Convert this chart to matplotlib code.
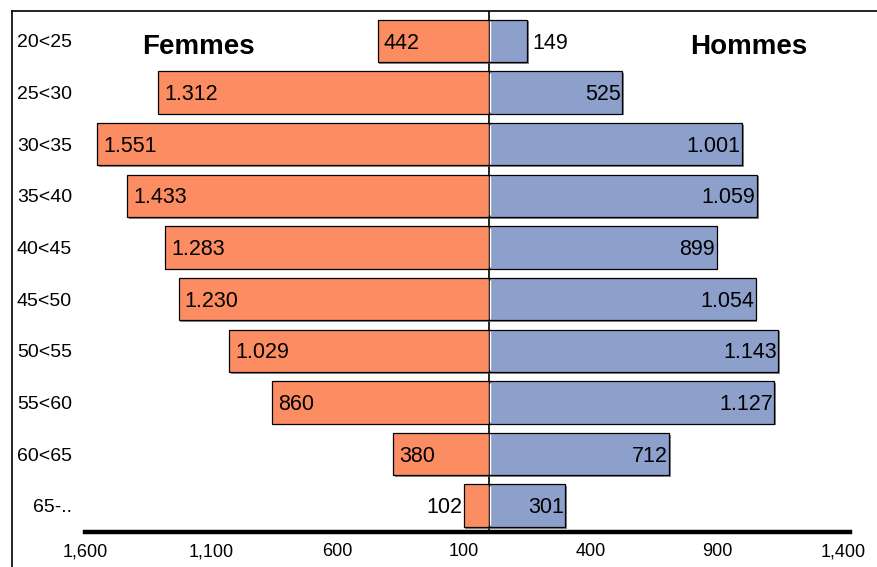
import matplotlib
matplotlib.use('agg')
import matplotlib.pyplot as plt
from matplotlib.lines import Line2D
import matplotlib.patheffects as pe
import numpy as np

plt.rcParams['font.family'] = ['Liberation Sans', 'DejaVu Sans']

# Age groups, top to bottom
ages = ['20<25', '25<30', '30<35', '35<40', '40<45', '45<50', '50<55', '55<60', '60<65', '65-..']
femmes = [442, 1312, 1551, 1433, 1283, 1230, 1029, 860, 380, 102]
hommes = [149, 525, 1001, 1059, 899, 1054, 1143, 1127, 712, 301]

tick_pos = [-1600, -1100, -600, -100, 400, 900, 1400]
tick_labels = ['1,600', '1,100', '600', '100', '400', '900', '1,400']

col_f = '#FC8D62'
col_h = '#8DA0CB'


def fmt(v):
    # European thousands separator
    return f'{v:,}'.replace(',', '.')


W, H = 877, 567
fig = plt.figure(figsize=(W / 100, H / 100), dpi=100)
ax = fig.add_axes([85 / W, (H - 532) / H, 765 / W, (532 - 11) / H])

y = np.arange(len(ages))
bar_h = 0.82
shadow = [pe.SimplePatchShadow(offset=(1.2, -1.2), shadow_rgbFace='0.35', alpha=0.7), pe.Normal()]

ax.axvline(0, color='black', lw=1.2, zorder=1)
bf = ax.barh(y, [-v for v in femmes], height=bar_h, color=col_f, edgecolor='black', lw=0.9, zorder=2)
bh = ax.barh(y, hommes, height=bar_h, color=col_h, edgecolor='black', lw=0.9, zorder=2)
for b in list(bf) + list(bh):
    b.set_path_effects(shadow)
# thin white gap where the two bars meet
ax.vlines(np.zeros(len(y)) + 3, y - bar_h / 2 + 0.03, y + bar_h / 2 - 0.03, color='white', lw=1.0, zorder=3)

fs_val = 15.5
dy = 0.04
for i, v in enumerate(femmes):
    if v > 200:
        ax.text(-v + 25, i + dy, fmt(v), ha='left', va='center', fontsize=fs_val, zorder=4)
    else:
        ax.text(-v - 4, i + dy, fmt(v), ha='right', va='center', fontsize=fs_val, zorder=4)
for i, v in enumerate(hommes):
    if v > 200:
        ax.text(v - 6, i + dy, fmt(v), ha='right', va='center', fontsize=fs_val, zorder=4)
    else:
        ax.text(v + 20, i + dy, fmt(v), ha='left', va='center', fontsize=fs_val, zorder=4)

ax.text(-1151, 0.12, 'Femmes', ha='center', va='center', fontsize=20, fontweight='bold')
ax.text(1025, 0.12, 'Hommes', ha='center', va='center', fontsize=20, fontweight='bold')

ax.set_xlim(-1600, 1427)
ax.set_ylim(9.51, -0.58)
ax.set_xticks(tick_pos)
ax.set_xticklabels(tick_labels, fontsize=13)
ax.set_yticks(y)
ax.set_yticklabels(ages, fontsize=14)
ax.tick_params(axis='x', length=0, pad=8)
ax.tick_params(axis='y', length=0, pad=9.4)
for s in ['top', 'right', 'left']:
    ax.spines[s].set_visible(False)
ax.spines['bottom'].set_linewidth(3.2)
ax.set_facecolor('none')

# outer frame (left and top only)
fig.add_artist(Line2D([12 / W, 12 / W], [0, (H - 11) / H], color='black', lw=1.2, transform=fig.transFigure))
fig.add_artist(Line2D([12 / W, 1], [(H - 11) / H, (H - 11) / H], color='black', lw=1.2, transform=fig.transFigure))

fig.savefig('out.png', dpi=100)
